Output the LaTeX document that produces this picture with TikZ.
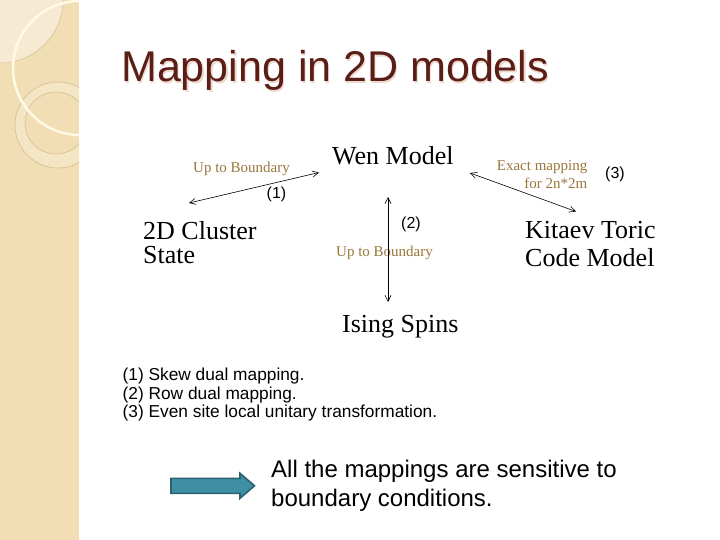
\documentclass[tikz,border=0pt]{standalone}
\usepackage{fontspec}
\setmainfont{Liberation Serif}
\newfontfamily\arialf{Liberation Sans}
\usetikzlibrary{arrows.meta}
\definecolor{stripbg}{RGB}{241,222,180}
\definecolor{striplight}{RGB}{246,234,210}
\definecolor{ringband}{RGB}{244,229,196}
\definecolor{ringline}{RGB}{214,190,140}
\definecolor{arcwhite}{RGB}{255,249,232}
\definecolor{titlecol}{RGB}{90,30,22}
\definecolor{titleshadow}{RGB}{238,216,206}
\definecolor{tanlabel}{RGB}{155,118,60}
\definecolor{blockfill}{RGB}{62,143,166}
\definecolor{blockline}{RGB}{42,98,112}
\tikzset{
  bignode/.style={inner sep=0pt, font=\fontsize{26}{28}\selectfont},
  tannode/.style={inner sep=0pt, text=tanlabel, font=\fontsize{15}{17.6}\selectfont},
  numnode/.style={inner sep=0pt, font=\arialf\fontsize{16}{18}\selectfont},
  conn/.style={draw=black, line width=0.6pt, {Straight Barb[length=6pt,width=6pt]}-{Straight Barb[length=6pt,width=6pt]}}
}
\begin{document}
\begin{tikzpicture}[x=1pt,y=-1pt]
\useasboundingbox (0,0) rectangle (720,540);
\fill[white] (0,0) rectangle (720,540);
\fill[stripbg] (0,0) rectangle (79,540);
\begin{scope}
  \clip (0,0) rectangle (79,540);
  \fill[striplight] (0,0) circle[radius=63];
  \draw[ringline, line width=0.5pt] (0,0) circle[radius=63];
  \fill[ringband, even odd rule] (58,125) circle[radius=43] (56,123) circle[radius=31];
  \draw[ringline, line width=0.6pt] (58,125) circle[radius=43];
  \draw[ringline, line width=0.6pt] (56,123) circle[radius=31];
  \draw[arcwhite, line width=2.5pt] (80,68) circle[radius=67];
\end{scope}

% title
\node[inner sep=0pt, anchor=base west, text=titleshadow, font=\arialf\fontsize{43}{48}\selectfont] (titleshadow) at (122.3,83.3) {Mapping in 2D models};
\node[inner sep=0pt, anchor=base west, text=titlecol, font=\arialf\fontsize{43}{48}\selectfont] (title) at (121,82) {Mapping in 2D models};

% main nodes
\node[bignode, anchor=base west] (wen) at (332,165) {Wen Model};
\node[bignode, anchor=north west, align=left, font=\fontsize{26}{24}\selectfont] (cluster) at (143,221) {2D Cluster\\State};
\node[bignode, anchor=north west, align=left, font=\fontsize{26}{28.3}\selectfont] (kitaev) at (525,221.2) {Kitaev Toric\\Code Model};
\node[bignode, anchor=base west] (ising) at (342,332) {Ising Spins};

% small labels
\node[tannode, anchor=base west] (ub1) at (193,173) {Up to Boundary};
\node[tannode, anchor=base west] (ub2) at (336,256.5) {Up to Boundary};
\node[tannode, anchor=north east, align=right] (exact) at (587.5,160.5) {Exact mapping\\for 2n*2m};

\node[numnode] (n1) at (276.5,194.5) {(1)};
\node[numnode] (n2) at (411,224.5) {(2)};
\node[numnode] (n3) at (615,174) {(3)};

% connectors
\coordinate (c1a) at (189,203);
\coordinate (c1b) at (319,172.5);
\coordinate (c2a) at (388,197);
\coordinate (c2b) at (388,302);
\coordinate (c3a) at (470,173);
\coordinate (c3b) at (576,211.5);
\draw[conn] (c1a) -- (c1b);
\draw[conn] (c2a) -- (c2b);
\draw[conn] (c3a) -- (c3b);

% legend
\node[inner sep=0pt, anchor=north west, align=left, font=\arialf\fontsize{17.3}{18.3}\selectfont] (legend) at (122.5,368)
  {(1) Skew dual mapping.\\(2) Row dual mapping.\\(3) Even site local unitary transformation.};

% block arrow
\filldraw[fill=blockfill, draw=blockline, line width=1.6pt, line join=miter]
  (171,478.3) -- (240,478.3) -- (240,473.3) -- (254.5,485.8) -- (240,498.3) -- (240,493.3) -- (171,493.3) -- cycle;

\node[inner sep=0pt, anchor=north west, align=left, font=\arialf\fontsize{24}{28.5}\selectfont] (note) at (271,460)
  {All the mappings are sensitive to\\boundary conditions.};
\end{tikzpicture}
\end{document}
